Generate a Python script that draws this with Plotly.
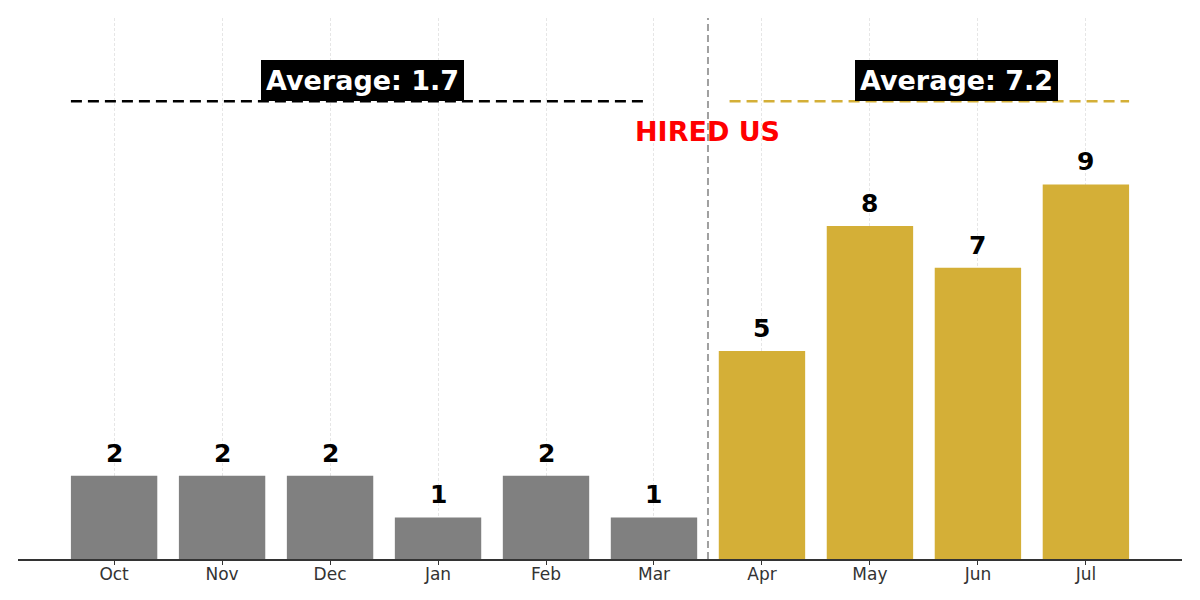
import plotly.graph_objects as go

months = ["Oct", "Nov", "Dec", "Jan", "Feb", "Mar", "Apr", "May", "Jun", "Jul"]
values = [2, 2, 2, 1, 2, 1, 5, 8, 7, 9]
before_idx = [0, 1, 2, 3, 4, 5]
after_idx = [6, 7, 8, 9]
avg_before_label = "Average: 1.7"
avg_after_label = "Average: 7.2"
avg_line_y = 11
divider_x = 5.5
hired_text = "HIRED US"

GRAY = "#808080"
GOLD = "#D4AF37"
FONT = "DejaVu Sans"

colors = [GRAY if i in before_idx else GOLD for i in range(len(months))]

fig = go.Figure()
fig.add_trace(go.Bar(
    x=list(range(len(months))), y=values, marker_color=colors, marker_line_width=0,
    width=0.8, showlegend=False, hoverinfo="skip",
))

# value labels
for i, v in enumerate(values):
    fig.add_annotation(x=i, y=v, text=f"<b>{v}</b>", showarrow=False, yanchor="bottom",
                       yshift=6, font=dict(family=FONT, size=25, color="black"))

# average lines
fig.add_shape(type="line", xref="x", yref="y", x0=before_idx[0] - 0.4, x1=before_idx[-1] - 0.1,
              y0=avg_line_y, y1=avg_line_y, line=dict(color="black", width=2.5, dash="11px,6px"))
fig.add_shape(type="line", xref="x", yref="y", x0=after_idx[0] - 0.3, x1=after_idx[-1] + 0.4,
              y0=avg_line_y, y1=avg_line_y, line=dict(color=GOLD, width=2.5, dash="11px,6px"))

# divider
fig.add_shape(type="line", xref="x", yref="paper", x0=divider_x, x1=divider_x, y0=0, y1=1,
              line=dict(color="#a0a0a0", width=2, dash="7px,4px"), layer="above")

fig.add_annotation(x=2.3, y=avg_line_y, text=f"<b>{avg_before_label}</b>", showarrow=False,
                   yanchor="bottom", bgcolor="black", borderpad=5, borderwidth=0,
                   font=dict(family=FONT, size=27, color="white"))
fig.add_annotation(x=7.8, y=avg_line_y, text=f"<b>{avg_after_label}</b>", showarrow=False,
                   yanchor="bottom", bgcolor="black", borderpad=5, borderwidth=0,
                   font=dict(family=FONT, size=27, color="white"))
fig.add_annotation(x=divider_x, y=10.27, text=f"<b>{hired_text}</b>", showarrow=False,
                   yanchor="middle", font=dict(family=FONT, size=27, color="red"))

fig.update_layout(
    width=1200, height=600,
    margin=dict(l=10, r=26, t=10, b=49),
    plot_bgcolor="white", paper_bgcolor="white",
    bargap=0.2,
    font=dict(family=FONT),
)
fig.update_xaxes(
    range=[-0.89, 9.89], tickmode="array", tickvals=list(range(len(months))), ticktext=months,
    showgrid=True, gridcolor="#e6e6e6", griddash="3px,2px", gridwidth=1,
    showline=True, linecolor="#333333", linewidth=1.5,
    ticks="outside", ticklen=4, tickcolor="#333333", tickwidth=1.2,
    tickfont=dict(family=FONT, size=17, color="#333333"),
    ticklabelstandoff=-5,
    layer="above traces", zeroline=False,
)
fig.update_yaxes(range=[0, 13], showgrid=False, showticklabels=False, zeroline=False,
                 showline=False, ticks="")

fig.write_html("out.html")
